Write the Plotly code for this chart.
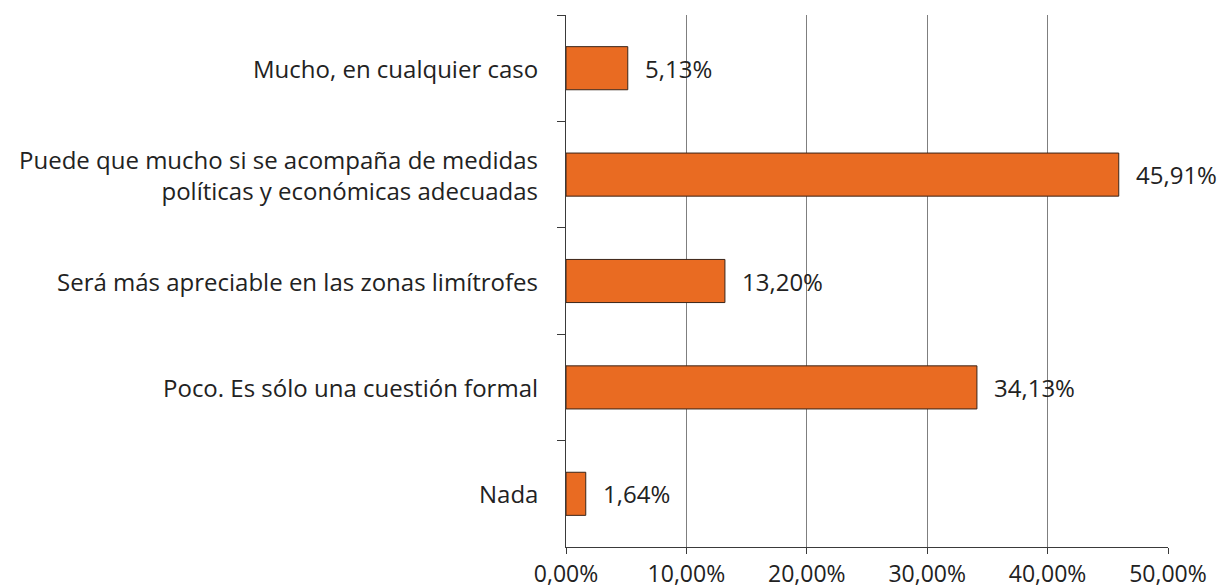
import plotly.graph_objects as go

categories = [
    "Mucho, en cualquier caso",
    "Puede que mucho si se acompaña de medidas<br>políticas y económicas adecuadas",
    "Será más apreciable en las zonas limítrofes",
    "Poco. Es sólo una cuestión formal",
    "Nada",
]
values = [5.13, 45.91, 13.20, 34.13, 1.64]
value_labels = ["5,13%", "45,91%", "13,20%", "34,13%", "1,64%"]
tick_vals = [0, 10, 20, 30, 40, 50]
tick_text = ["0,00%", "10,00%", "20,00%", "30,00%", "40,00%", "50,00%"]

FONT = "Open Sans"
TXT = "#222222"
FS = 24

fig = go.Figure()
fig.add_trace(go.Bar(
    y=categories, x=values, orientation="h", width=0.405,
    marker=dict(color="#E96B22", line=dict(color="#3a2418", width=1)),
    hoverinfo="skip",
))
for c, v, t in zip(categories, values, value_labels):
    fig.add_annotation(x=v, y=c, text=t, showarrow=False, xanchor="left",
                       xshift=15, font=dict(family=FONT, size=FS, color=TXT))

# category labels
for c in categories:
    fig.add_annotation(xref="paper", x=0, y=c, text=c, showarrow=False,
                       xanchor="right", yanchor="middle", align="right",
                       xshift=-26,
                       font=dict(family=FONT, size=FS, color=TXT))

fig.update_layout(
    width=1220, height=588,
    margin=dict(l=566, r=52, t=15, b=41, autoexpand=False),
    paper_bgcolor="white", plot_bgcolor="white",
    showlegend=False,
    font=dict(family=FONT, size=FS, color=TXT),
)
fig.update_xaxes(
    range=[0, 50], tickvals=tick_vals, ticktext=tick_text,
    showgrid=True, gridcolor="#7f7f7f", gridwidth=1,
    showline=True, linecolor="#3a3a3a", linewidth=1,
    ticks="outside", ticklen=6, tickcolor="#3a3a3a",
    zeroline=False, tickfont=dict(family=FONT, size=23, color=TXT),
    automargin=False,
)
fig.update_yaxes(
    categoryorder="array", categoryarray=categories, autorange="reversed",
    showline=True, linecolor="#3a3a3a", linewidth=1,
    ticks="outside", ticklen=8, tickcolor="#3a3a3a", tickson="boundaries",
    showgrid=False, showticklabels=False, automargin=False,
)
fig.write_html("out.html", config={"displayModeBar": False},
               post_script="document.body.style.margin='0';")
